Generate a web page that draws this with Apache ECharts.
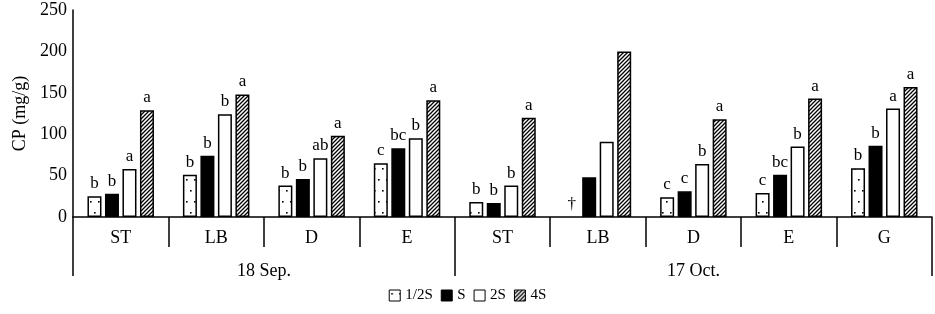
<!DOCTYPE html>
<html>
<head>
<meta charset="utf-8">
<script src="https://cdn.jsdelivr.net/npm/echarts@6/dist/echarts.min.js"></script>
<style>
  html, body { margin: 0; padding: 0; background: #fff; }
  #chart { width: 935px; height: 314px; }
</style>
</head>
<body>
<div id="chart"></div>
<script>
  // data
  var sites = ['ST', 'LB', 'D', 'E', 'ST', 'LB', 'D', 'E', 'G'];
  var dates = ['18 Sep.', '17 Oct.'];
  var dateSpans = [4, 5]; // how many sites under each date
  var seriesNames = ['1/2S', 'S', '2S', '4S'];
  var halfS = [25, 51, 38, 65, 18, 0, 24, 29, 59];
  var oneS = [28, 74, 46, 83, 17, 48, 31, 51, 86];
  var twoS = [58, 124, 71, 95, 38, 91, 64, 85, 131];
  var fourS = [129, 148, 98, 141, 120, 200, 118, 143, 157];
  var halfSLetters = ['b', 'b', 'b', 'c', 'b', '†', 'c', 'c', 'b'];
  var oneSLetters = ['b', 'b', 'b', 'bc', 'b', '', 'c', 'bc', 'b'];
  var twoSLetters = ['a', 'b', 'ab', 'b', 'b', '', 'b', 'b', 'a'];
  var fourSLetters = ['a', 'a', 'a', 'a', 'a', '', 'a', 'a', 'a'];
  var yTicks = [0, 50, 100, 150, 200, 250];

  var font = 'Liberation Serif';

  function dotPattern() {
    var c = document.createElement('canvas');
    c.width = 8; c.height = 22;
    var ctx = c.getContext('2d');
    ctx.fillStyle = '#fff';
    ctx.fillRect(0, 0, 8, 22);
    ctx.fillStyle = '#000';
    ctx.fillRect(2, 3, 1.6, 1.6);
    ctx.fillRect(6, 14, 1.6, 1.6);
    return c;
  }

  function hatchPattern() {
    var c = document.createElement('canvas');
    c.width = 4; c.height = 4;
    var ctx = c.getContext('2d');
    ctx.fillStyle = '#fff';
    ctx.fillRect(0, 0, 4, 4);
    ctx.strokeStyle = '#000';
    ctx.lineWidth = 1.3;
    ctx.beginPath();
    ctx.moveTo(0, 4); ctx.lineTo(4, 0);
    ctx.moveTo(-1, 1); ctx.lineTo(1, -1);
    ctx.moveTo(3, 5); ctx.lineTo(5, 3);
    ctx.stroke();
    return c;
  }

  var fills = [
    { image: dotPattern(), repeat: 'repeat' },
    '#000',
    '#fff',
    { image: hatchPattern(), repeat: 'repeat' }
  ];
  var values = [halfS, oneS, twoS, fourS];
  var letters = [halfSLetters, oneSLetters, twoSLetters, fourSLetters];

  // second tier axis: points every half site, date label at the centre of its span
  var datePoints = [];
  var dateBounds = [0];
  var dateCenters = {};
  var start = 0;
  for (var i = 0; i <= sites.length * 2; i++) datePoints.push('');
  dates.forEach(function (d, k) {
    var c = start * 2 + dateSpans[k];
    datePoints[c] = d;
    dateCenters[c] = true;
    start += dateSpans[k];
    dateBounds.push(start * 2);
  });

  var series = seriesNames.map(function (name, s) {
    return {
      name: name,
      type: 'bar',
      barWidth: 14,
      barGap: '25%',
      data: values[s].map(function (v, j) {
        if (s === 0 && letters[s][j] === '†') {
          return { value: v, itemStyle: { borderWidth: 0 } };
        }
        return v;
      }),
      itemStyle: { color: fills[s], borderColor: '#000', borderWidth: 1.5 },
      label: {
        show: true,
        position: 'top',
        distance: 4,
        color: '#000',
        fontSize: 17,
        fontFamily: font,
        formatter: function (p) { return letters[s][p.dataIndex]; }
      }
    };
  });

  var chart = echarts.init(document.getElementById('chart'));
  var option = {
    animation: false,
    backgroundColor: '#fff',
    grid: { left: 73, right: 3, top: 10, bottom: 97, containLabel: false },
    legend: {
      data: seriesNames,
      bottom: 6,
      left: 'center',
      icon: 'rect',
      itemWidth: 11,
      itemHeight: 11,
      itemGap: 8,
      textStyle: { color: '#000', fontSize: 15, fontFamily: font },
      itemStyle: { borderColor: '#000', borderWidth: 1 }
    },
    xAxis: [{
      type: 'category',
      data: sites,
      position: 'bottom',
      axisLine: { lineStyle: { color: '#000', width: 1.5 } },
      axisTick: { show: true, length: 30, lineStyle: { color: '#000', width: 1.5 } },
      axisLabel: { color: '#000', fontSize: 18, fontFamily: font, margin: 12 }
    }, {
      type: 'category',
      data: datePoints,
      boundaryGap: false,
      position: 'bottom',
      axisLine: { show: false },
      axisTick: {
        show: true,
        length: 59,
        interval: function (idx) { return dateBounds.indexOf(idx) >= 0; },
        lineStyle: { color: '#000', width: 1.5 }
      },
      axisLabel: {
        color: '#000', fontSize: 18, fontFamily: font, margin: 45,
        interval: function (idx) { return !!dateCenters[idx]; }
      }
    }],
    yAxis: {
      type: 'value',
      min: yTicks[0],
      max: yTicks[yTicks.length - 1],
      interval: 50,
      name: 'CP (mg/g)',
      nameLocation: 'middle',
      nameGap: 42,
      nameTextStyle: { color: '#000', fontSize: 18, fontFamily: font },
      axisLine: { show: true, lineStyle: { color: '#000', width: 1.5 } },
      axisTick: { show: false },
      splitLine: { show: false },
      axisLabel: { color: '#000', fontSize: 18, fontFamily: font, margin: 6 }
    },
    series: series
  };
  chart.setOption(option);
</script>
</body>
</html>
